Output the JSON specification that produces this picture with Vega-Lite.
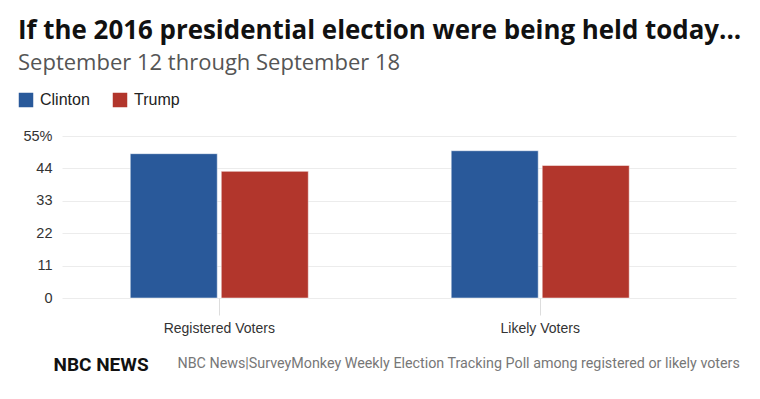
{
  "$schema": "https://vega.github.io/schema/vega-lite/v6.json",
  "width": 674,
  "height": 162,
  "autosize": "none",
  "padding": {"left": 62, "top": 136, "right": 24, "bottom": 101},
  "background": "white",
  "title": {
    "text": "If the 2016 presidential election were being held today...",
    "subtitle": "September 12 through September 18",
    "anchor": "start",
    "frame": "group",
    "dx": -44,
    "offset": 17,
    "font": "Open Sans",
    "fontSize": 25.9,
    "fontWeight": "bold",
    "color": "#111111",
    "subtitleFont": "Open Sans",
    "subtitleFontSize": 22,
    "subtitleColor": "#555555",
    "subtitlePadding": 8
  },
  "data": {
    "values": [
      {"group": "Registered Voters", "candidate": "Clinton", "value": 49},
      {"group": "Registered Voters", "candidate": "Trump", "value": 43},
      {"group": "Likely Voters", "candidate": "Clinton", "value": 50},
      {"group": "Likely Voters", "candidate": "Trump", "value": 45}
    ]
  },
  "mark": {"type": "bar", "stroke": "white", "strokeWidth": 0.5},
  "encoding": {
    "x": {
      "field": "group",
      "type": "nominal",
      "sort": ["Registered Voters", "Likely Voters"],
      "scale": {"paddingInner": 0.02, "paddingOuter": 0.06, "align": 0},
      "axis": {
        "title": "NBC News|SurveyMonkey Weekly Election Tracking Poll among registered or likely voters",
        "titleX": 115,
        "titleY": 69,
        "titleAlign": "left",
        "titleAnchor": null,
        "titleBaseline": "alphabetic",
        "titleFont": "Roboto",
        "titleFontSize": 14.3,
        "titleFontWeight": "normal",
        "titleColor": "#777777",
        "labelAngle": 0,
        "labelFont": "Liberation Sans",
        "labelFontSize": 14,
        "labelColor": "#333333",
        "labelPadding": 6,
        "tickSize": 17,
        "tickColor": "#dddddd",
        "domain": false,
        "grid": false
      }
    },
    "xOffset": {
      "field": "candidate",
      "type": "nominal",
      "scale": {"paddingInner": 0.044, "paddingOuter": 0.75}
    },
    "y": {
      "field": "value",
      "type": "quantitative",
      "scale": {"domain": [0, 55]},
      "axis": {
        "values": [0, 11, 22, 33, 44, 55],
        "labelExpr": "datum.value == 55 ? '55%' : datum.label",
        "title": "NBC NEWS",
        "titleAngle": 0,
        "titleX": -9,
        "titleY": 234,
        "titleAlign": "left",
        "titleAnchor": null,
        "titleBaseline": "alphabetic",
        "titleFont": "Roboto",
        "titleFontSize": 19,
        "titleFontWeight": "bold",
        "titleColor": "#111111",
        "labelFont": "Liberation Sans",
        "labelFontSize": 14.5,
        "labelColor": "#333333",
        "labelPadding": 10,
        "ticks": false,
        "domain": false,
        "grid": true,
        "gridColor": "#ececec",
        "gridWidth": 1
      }
    },
    "color": {
      "field": "candidate",
      "type": "nominal",
      "scale": {"domain": ["Clinton", "Trump"], "range": ["#29599a", "#b2362c"]},
      "legend": {
        "orient": "none",
        "legendX": -44,
        "legendY": -44,
        "direction": "horizontal",
        "title": null,
        "symbolType": "square",
        "symbolSize": 210,
        "symbolStrokeWidth": 0,
        "labelFont": "Liberation Sans",
        "labelFontSize": 16,
        "labelColor": "#222222",
        "labelOffset": 6,
        "columnPadding": 22
      }
    }
  },
  "config": {"view": {"stroke": null}}
}
